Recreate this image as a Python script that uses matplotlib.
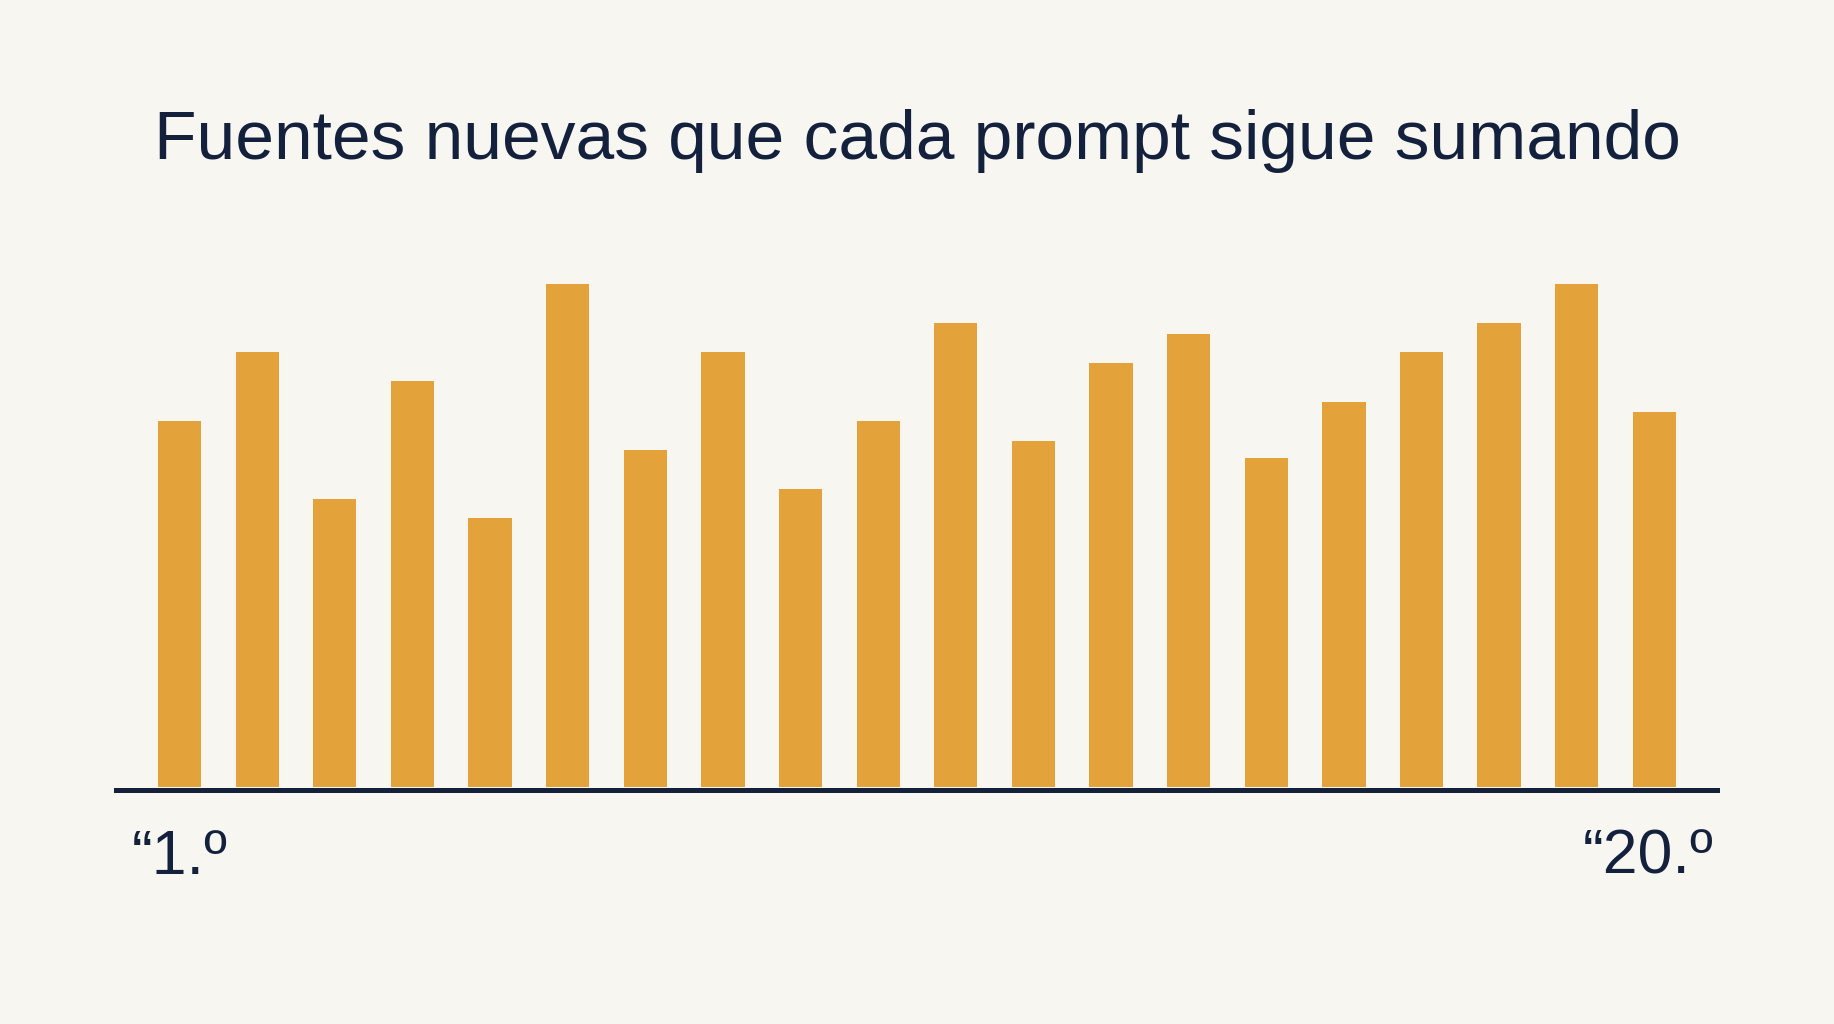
import matplotlib
matplotlib.use("Agg")
import matplotlib.pyplot as plt
import matplotlib.transforms as mtransforms

# ---- data ----
prompts = list(range(1, 21))
new_sources = [18.9, 22.5, 14.9, 21.0, 13.9, 26.0, 17.4, 22.5, 15.4, 18.9,
               24.0, 17.9, 21.9, 23.4, 17.0, 19.9, 22.5, 24.0, 26.0, 19.4]
tick_positions = [1, 20]
tick_labels = ["\u201c1.\u00ba", "\u201c20.\u00ba"]
title = "Fuentes nuevas que cada prompt sigue sumando"

# ---- style ----
BG = "#f7f6f1"
BAR = "#e3a23a"
NAVY = "#14213d"
W, H = 1834, 1024
plt.rcParams["font.family"] = ["Liberation Sans", "DejaVu Sans"]

fig = plt.figure(figsize=(W / 100, H / 100), dpi=100, facecolor=BG)

# axes placement in pixels
ax_left, ax_right = 115.8, 1717.0
ax_bottom_px, ax_top_px = 789.5, 284.0  # from top
ax = fig.add_axes([ax_left / W, 1 - ax_bottom_px / H,
                   (ax_right - ax_left) / W, (ax_bottom_px - ax_top_px) / H])
ax.set_facecolor(BG)

ymax = 26.0
px_per_unit = (787.0 - 284.0) / ymax
ax.set_ylim(-2.5 / px_per_unit, ymax)
ax.set_xlim(1 - 0.822, 20 + 0.807)

ax.bar(prompts, new_sources, width=0.558, color=BAR, zorder=2)

for s in ["top", "left", "right"]:
    ax.spines[s].set_visible(False)
ax.spines["bottom"].set_color(NAVY)
ax.spines["bottom"].set_linewidth(3.6)
ax.spines["bottom"].set_zorder(3)
ax.set_yticks([])
ax.set_xticks([])

trans = mtransforms.blended_transform_factory(ax.transData, fig.transFigure)
offsets = [0.0, -0.08]
for pos, lab, off in zip(tick_positions, tick_labels, offsets):
    ax.text(pos + off, 1 - 874 / H, lab, transform=trans, ha="center", va="baseline",
            fontsize=45, color=NAVY)

fig.text(0.5, 1 - 159.3 / H, title, ha="center", va="baseline",
         fontsize=50, color=NAVY)

fig.savefig("out.png", dpi=100, facecolor=BG)
